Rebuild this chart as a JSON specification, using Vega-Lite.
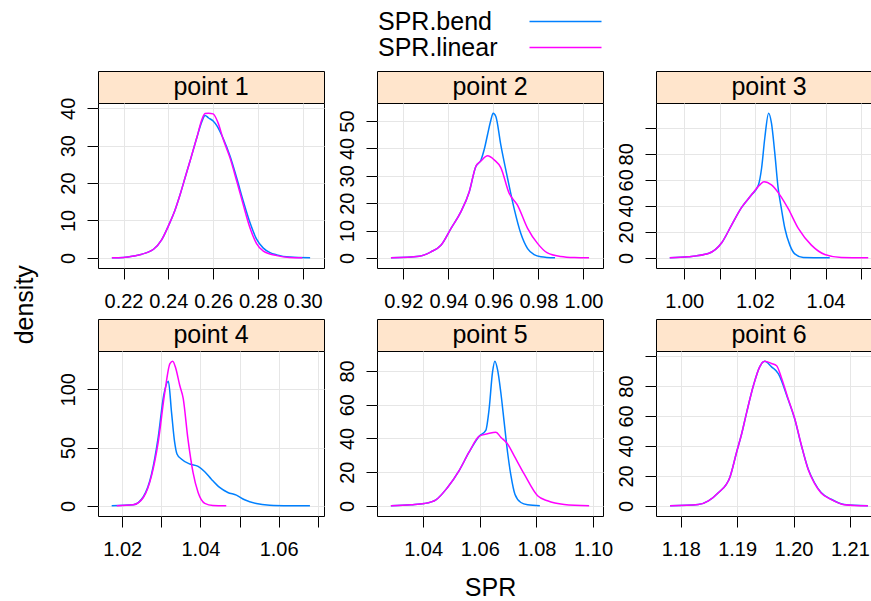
{
  "$schema": "https://vega.github.io/schema/vega-lite/v6.json",
  "background": "white",
  "padding": {"left": 12, "top": 9, "right": -10, "bottom": 0},
  "title": {"text": "density", "orient": "left", "anchor": "middle", "fontSize": 25, "fontWeight": "normal", "font": "Liberation Sans", "color": "black", "offset": 20},
  "datasets": {
    "panels": [{"p": "point 1"}, {"p": "point 2"}, {"p": "point 3"}, {"p": "point 4"}, {"p": "point 5"}, {"p": "point 6"}],
    "dens": [
      {"p":"point 1","s":"SPR.bend","x":0.2148,"y":0},
      {"p":"point 1","s":"SPR.bend","x":0.2200,"y":0.1},
      {"p":"point 1","s":"SPR.bend","x":0.2245,"y":0.5},
      {"p":"point 1","s":"SPR.bend","x":0.2304,"y":1.4},
      {"p":"point 1","s":"SPR.bend","x":0.2334,"y":2.3},
      {"p":"point 1","s":"SPR.bend","x":0.2370,"y":4.8},
      {"p":"point 1","s":"SPR.bend","x":0.2400,"y":8.5},
      {"p":"point 1","s":"SPR.bend","x":0.2430,"y":12.8},
      {"p":"point 1","s":"SPR.bend","x":0.2453,"y":17},
      {"p":"point 1","s":"SPR.bend","x":0.2475,"y":21.5},
      {"p":"point 1","s":"SPR.bend","x":0.2497,"y":25.9},
      {"p":"point 1","s":"SPR.bend","x":0.2527,"y":32.1},
      {"p":"point 1","s":"SPR.bend","x":0.2550,"y":36.5},
      {"p":"point 1","s":"SPR.bend","x":0.2564,"y":38.1},
      {"p":"point 1","s":"SPR.bend","x":0.2580,"y":37.4},
      {"p":"point 1","s":"SPR.bend","x":0.2600,"y":36.6},
      {"p":"point 1","s":"SPR.bend","x":0.2617,"y":35.3},
      {"p":"point 1","s":"SPR.bend","x":0.2645,"y":31.9},
      {"p":"point 1","s":"SPR.bend","x":0.2675,"y":27.3},
      {"p":"point 1","s":"SPR.bend","x":0.2705,"y":21.4},
      {"p":"point 1","s":"SPR.bend","x":0.2734,"y":15.3},
      {"p":"point 1","s":"SPR.bend","x":0.2764,"y":9.5},
      {"p":"point 1","s":"SPR.bend","x":0.2794,"y":5.0},
      {"p":"point 1","s":"SPR.bend","x":0.2824,"y":2.6},
      {"p":"point 1","s":"SPR.bend","x":0.2854,"y":1.4},
      {"p":"point 1","s":"SPR.bend","x":0.2884,"y":0.8},
      {"p":"point 1","s":"SPR.bend","x":0.2943,"y":0.2},
      {"p":"point 1","s":"SPR.bend","x":0.3033,"y":0},
      {"p":"point 2","s":"SPR.bend","x":0.9145,"y":0},
      {"p":"point 2","s":"SPR.bend","x":0.9271,"y":0.6},
      {"p":"point 2","s":"SPR.bend","x":0.9323,"y":2.2},
      {"p":"point 2","s":"SPR.bend","x":0.9367,"y":4.6},
      {"p":"point 2","s":"SPR.bend","x":0.9412,"y":10.8},
      {"p":"point 2","s":"SPR.bend","x":0.9456,"y":16.9},
      {"p":"point 2","s":"SPR.bend","x":0.9493,"y":24.2},
      {"p":"point 2","s":"SPR.bend","x":0.9522,"y":33.4},
      {"p":"point 2","s":"SPR.bend","x":0.9545,"y":35.8},
      {"p":"point 2","s":"SPR.bend","x":0.9559,"y":39.5},
      {"p":"point 2","s":"SPR.bend","x":0.9574,"y":45},
      {"p":"point 2","s":"SPR.bend","x":0.9589,"y":50.4},
      {"p":"point 2","s":"SPR.bend","x":0.9599,"y":52.9},
      {"p":"point 2","s":"SPR.bend","x":0.9611,"y":51.7},
      {"p":"point 2","s":"SPR.bend","x":0.9633,"y":41.3},
      {"p":"point 2","s":"SPR.bend","x":0.9663,"y":29.1},
      {"p":"point 2","s":"SPR.bend","x":0.9692,"y":18.1},
      {"p":"point 2","s":"SPR.bend","x":0.9722,"y":8.9},
      {"p":"point 2","s":"SPR.bend","x":0.9752,"y":3.4},
      {"p":"point 2","s":"SPR.bend","x":0.9781,"y":1.2},
      {"p":"point 2","s":"SPR.bend","x":0.9811,"y":0.4},
      {"p":"point 2","s":"SPR.bend","x":0.9874,"y":0},
      {"p":"point 3","s":"SPR.bend","x":0.9959,"y":0},
      {"p":"point 3","s":"SPR.bend","x":1.0011,"y":0.8},
      {"p":"point 3","s":"SPR.bend","x":1.0068,"y":3.3},
      {"p":"point 3","s":"SPR.bend","x":1.0106,"y":11.6},
      {"p":"point 3","s":"SPR.bend","x":1.0134,"y":25.2},
      {"p":"point 3","s":"SPR.bend","x":1.0162,"y":38.6},
      {"p":"point 3","s":"SPR.bend","x":1.0190,"y":48.3},
      {"p":"point 3","s":"SPR.bend","x":1.0210,"y":56},
      {"p":"point 3","s":"SPR.bend","x":1.0219,"y":68.9},
      {"p":"point 3","s":"SPR.bend","x":1.0228,"y":92},
      {"p":"point 3","s":"SPR.bend","x":1.0239,"y":111.3},
      {"p":"point 3","s":"SPR.bend","x":1.0247,"y":103.6},
      {"p":"point 3","s":"SPR.bend","x":1.0256,"y":81.7},
      {"p":"point 3","s":"SPR.bend","x":1.0266,"y":53.4},
      {"p":"point 3","s":"SPR.bend","x":1.0275,"y":38},
      {"p":"point 3","s":"SPR.bend","x":1.0285,"y":22.6},
      {"p":"point 3","s":"SPR.bend","x":1.0299,"y":9.8},
      {"p":"point 3","s":"SPR.bend","x":1.0313,"y":3.1},
      {"p":"point 3","s":"SPR.bend","x":1.0337,"y":0.3},
      {"p":"point 3","s":"SPR.bend","x":1.0412,"y":0},
      {"p":"point 4","s":"SPR.bend","x":1.0173,"y":0},
      {"p":"point 4","s":"SPR.bend","x":1.0228,"y":0.9},
      {"p":"point 4","s":"SPR.bend","x":1.0254,"y":7.8},
      {"p":"point 4","s":"SPR.bend","x":1.0275,"y":27.3},
      {"p":"point 4","s":"SPR.bend","x":1.0292,"y":58.9},
      {"p":"point 4","s":"SPR.bend","x":1.0306,"y":94.8},
      {"p":"point 4","s":"SPR.bend","x":1.0318,"y":106.9},
      {"p":"point 4","s":"SPR.bend","x":1.0326,"y":80.4},
      {"p":"point 4","s":"SPR.bend","x":1.0334,"y":54.6},
      {"p":"point 4","s":"SPR.bend","x":1.0340,"y":44.5},
      {"p":"point 4","s":"SPR.bend","x":1.0351,"y":40.2},
      {"p":"point 4","s":"SPR.bend","x":1.0373,"y":35.9},
      {"p":"point 4","s":"SPR.bend","x":1.0394,"y":33.9},
      {"p":"point 4","s":"SPR.bend","x":1.0411,"y":29.3},
      {"p":"point 4","s":"SPR.bend","x":1.0428,"y":22.9},
      {"p":"point 4","s":"SPR.bend","x":1.0449,"y":15.8},
      {"p":"point 4","s":"SPR.bend","x":1.0470,"y":11.5},
      {"p":"point 4","s":"SPR.bend","x":1.0492,"y":9.2},
      {"p":"point 4","s":"SPR.bend","x":1.0513,"y":5.2},
      {"p":"point 4","s":"SPR.bend","x":1.0543,"y":2.0},
      {"p":"point 4","s":"SPR.bend","x":1.0577,"y":0.6},
      {"p":"point 4","s":"SPR.bend","x":1.0628,"y":0.1},
      {"p":"point 4","s":"SPR.bend","x":1.0680,"y":0},
      {"p":"point 5","s":"SPR.bend","x":1.0286,"y":0},
      {"p":"point 5","s":"SPR.bend","x":1.0357,"y":0.7},
      {"p":"point 5","s":"SPR.bend","x":1.0404,"y":1.4},
      {"p":"point 5","s":"SPR.bend","x":1.0445,"y":3.6},
      {"p":"point 5","s":"SPR.bend","x":1.0486,"y":10.9},
      {"p":"point 5","s":"SPR.bend","x":1.0527,"y":20.9},
      {"p":"point 5","s":"SPR.bend","x":1.0562,"y":31.8},
      {"p":"point 5","s":"SPR.bend","x":1.0598,"y":41.3},
      {"p":"point 5","s":"SPR.bend","x":1.0621,"y":44.7},
      {"p":"point 5","s":"SPR.bend","x":1.0633,"y":57.6},
      {"p":"point 5","s":"SPR.bend","x":1.0645,"y":79.4},
      {"p":"point 5","s":"SPR.bend","x":1.0653,"y":85.8},
      {"p":"point 5","s":"SPR.bend","x":1.0663,"y":80.5},
      {"p":"point 5","s":"SPR.bend","x":1.0674,"y":67.5},
      {"p":"point 5","s":"SPR.bend","x":1.0686,"y":49.6},
      {"p":"point 5","s":"SPR.bend","x":1.0698,"y":31.8},
      {"p":"point 5","s":"SPR.bend","x":1.0710,"y":17.9},
      {"p":"point 5","s":"SPR.bend","x":1.0724,"y":6.9},
      {"p":"point 5","s":"SPR.bend","x":1.0745,"y":2.0},
      {"p":"point 5","s":"SPR.bend","x":1.0769,"y":0.6},
      {"p":"point 5","s":"SPR.bend","x":1.0812,"y":0},
      {"p":"point 6","s":"SPR.bend","x":1.1781,"y":0},
      {"p":"point 6","s":"SPR.bend","x":1.1831,"y":0.9},
      {"p":"point 6","s":"SPR.bend","x":1.1849,"y":3.4},
      {"p":"point 6","s":"SPR.bend","x":1.1867,"y":8.9},
      {"p":"point 6","s":"SPR.bend","x":1.1887,"y":19},
      {"p":"point 6","s":"SPR.bend","x":1.1899,"y":35.8},
      {"p":"point 6","s":"SPR.bend","x":1.1908,"y":48.1},
      {"p":"point 6","s":"SPR.bend","x":1.1917,"y":62.6},
      {"p":"point 6","s":"SPR.bend","x":1.1929,"y":80.5},
      {"p":"point 6","s":"SPR.bend","x":1.1940,"y":92.8},
      {"p":"point 6","s":"SPR.bend","x":1.1949,"y":96.6},
      {"p":"point 6","s":"SPR.bend","x":1.1961,"y":92.8},
      {"p":"point 6","s":"SPR.bend","x":1.1973,"y":88.3},
      {"p":"point 6","s":"SPR.bend","x":1.1990,"y":71.5},
      {"p":"point 6","s":"SPR.bend","x":1.2002,"y":58.1},
      {"p":"point 6","s":"SPR.bend","x":1.2014,"y":40.3},
      {"p":"point 6","s":"SPR.bend","x":1.2026,"y":24.6},
      {"p":"point 6","s":"SPR.bend","x":1.2037,"y":15.6},
      {"p":"point 6","s":"SPR.bend","x":1.2049,"y":8.9},
      {"p":"point 6","s":"SPR.bend","x":1.2067,"y":4.4},
      {"p":"point 6","s":"SPR.bend","x":1.2090,"y":0.9},
      {"p":"point 6","s":"SPR.bend","x":1.2132,"y":0},
      {"p":"point 1","s":"SPR.linear","x":0.2148,"y":0},
      {"p":"point 1","s":"SPR.linear","x":0.2200,"y":0.1},
      {"p":"point 1","s":"SPR.linear","x":0.2245,"y":0.5},
      {"p":"point 1","s":"SPR.linear","x":0.2304,"y":1.4},
      {"p":"point 1","s":"SPR.linear","x":0.2334,"y":2.3},
      {"p":"point 1","s":"SPR.linear","x":0.2370,"y":4.8},
      {"p":"point 1","s":"SPR.linear","x":0.2400,"y":8.5},
      {"p":"point 1","s":"SPR.linear","x":0.2430,"y":12.8},
      {"p":"point 1","s":"SPR.linear","x":0.2453,"y":17},
      {"p":"point 1","s":"SPR.linear","x":0.2475,"y":21.5},
      {"p":"point 1","s":"SPR.linear","x":0.2497,"y":25.9},
      {"p":"point 1","s":"SPR.linear","x":0.2527,"y":32.1},
      {"p":"point 1","s":"SPR.linear","x":0.2550,"y":37.0},
      {"p":"point 1","s":"SPR.linear","x":0.2564,"y":38.6},
      {"p":"point 1","s":"SPR.linear","x":0.2579,"y":38.7},
      {"p":"point 1","s":"SPR.linear","x":0.2600,"y":38.5},
      {"p":"point 1","s":"SPR.linear","x":0.2622,"y":36.1},
      {"p":"point 1","s":"SPR.linear","x":0.2645,"y":31.7},
      {"p":"point 1","s":"SPR.linear","x":0.2675,"y":26.8},
      {"p":"point 1","s":"SPR.linear","x":0.2705,"y":20.6},
      {"p":"point 1","s":"SPR.linear","x":0.2734,"y":14.3},
      {"p":"point 1","s":"SPR.linear","x":0.2764,"y":8.1},
      {"p":"point 1","s":"SPR.linear","x":0.2794,"y":3.8},
      {"p":"point 1","s":"SPR.linear","x":0.2824,"y":1.8},
      {"p":"point 1","s":"SPR.linear","x":0.2884,"y":0.6},
      {"p":"point 1","s":"SPR.linear","x":0.2940,"y":0.1},
      {"p":"point 1","s":"SPR.linear","x":0.2998,"y":0},
      {"p":"point 2","s":"SPR.linear","x":0.9145,"y":0},
      {"p":"point 2","s":"SPR.linear","x":0.9271,"y":0.6},
      {"p":"point 2","s":"SPR.linear","x":0.9323,"y":2.2},
      {"p":"point 2","s":"SPR.linear","x":0.9367,"y":4.6},
      {"p":"point 2","s":"SPR.linear","x":0.9412,"y":10.8},
      {"p":"point 2","s":"SPR.linear","x":0.9456,"y":16.9},
      {"p":"point 2","s":"SPR.linear","x":0.9493,"y":24.2},
      {"p":"point 2","s":"SPR.linear","x":0.9522,"y":33.4},
      {"p":"point 2","s":"SPR.linear","x":0.9545,"y":35.4},
      {"p":"point 2","s":"SPR.linear","x":0.9574,"y":37.3},
      {"p":"point 2","s":"SPR.linear","x":0.9604,"y":35.8},
      {"p":"point 2","s":"SPR.linear","x":0.9633,"y":33},
      {"p":"point 2","s":"SPR.linear","x":0.9670,"y":23.6},
      {"p":"point 2","s":"SPR.linear","x":0.9707,"y":19.3},
      {"p":"point 2","s":"SPR.linear","x":0.9752,"y":10.8},
      {"p":"point 2","s":"SPR.linear","x":0.9796,"y":5.3},
      {"p":"point 2","s":"SPR.linear","x":0.9840,"y":1.8},
      {"p":"point 2","s":"SPR.linear","x":0.9899,"y":0.5},
      {"p":"point 2","s":"SPR.linear","x":0.9960,"y":0.1},
      {"p":"point 2","s":"SPR.linear","x":1.0025,"y":0},
      {"p":"point 3","s":"SPR.linear","x":0.9959,"y":0},
      {"p":"point 3","s":"SPR.linear","x":1.0011,"y":0.8},
      {"p":"point 3","s":"SPR.linear","x":1.0068,"y":3.3},
      {"p":"point 3","s":"SPR.linear","x":1.0106,"y":11.6},
      {"p":"point 3","s":"SPR.linear","x":1.0134,"y":25.2},
      {"p":"point 3","s":"SPR.linear","x":1.0162,"y":38.6},
      {"p":"point 3","s":"SPR.linear","x":1.0190,"y":48.3},
      {"p":"point 3","s":"SPR.linear","x":1.0214,"y":56.1},
      {"p":"point 3","s":"SPR.linear","x":1.0226,"y":58.6},
      {"p":"point 3","s":"SPR.linear","x":1.0247,"y":56.1},
      {"p":"point 3","s":"SPR.linear","x":1.0271,"y":48.3},
      {"p":"point 3","s":"SPR.linear","x":1.0294,"y":38},
      {"p":"point 3","s":"SPR.linear","x":1.0323,"y":22.6},
      {"p":"point 3","s":"SPR.linear","x":1.0360,"y":9.8},
      {"p":"point 3","s":"SPR.linear","x":1.0398,"y":2.6},
      {"p":"point 3","s":"SPR.linear","x":1.0445,"y":0.3},
      {"p":"point 3","s":"SPR.linear","x":1.0521,"y":0},
      {"p":"point 4","s":"SPR.linear","x":1.0186,"y":0},
      {"p":"point 4","s":"SPR.linear","x":1.0228,"y":0.9},
      {"p":"point 4","s":"SPR.linear","x":1.0254,"y":7.2},
      {"p":"point 4","s":"SPR.linear","x":1.0275,"y":25.9},
      {"p":"point 4","s":"SPR.linear","x":1.0292,"y":54.6},
      {"p":"point 4","s":"SPR.linear","x":1.0309,"y":97.7},
      {"p":"point 4","s":"SPR.linear","x":1.0322,"y":122},
      {"p":"point 4","s":"SPR.linear","x":1.0329,"y":124.1},
      {"p":"point 4","s":"SPR.linear","x":1.0337,"y":117.8},
      {"p":"point 4","s":"SPR.linear","x":1.0347,"y":103.4},
      {"p":"point 4","s":"SPR.linear","x":1.0356,"y":91.9},
      {"p":"point 4","s":"SPR.linear","x":1.0368,"y":57.4},
      {"p":"point 4","s":"SPR.linear","x":1.0381,"y":28.7},
      {"p":"point 4","s":"SPR.linear","x":1.0394,"y":11.5},
      {"p":"point 4","s":"SPR.linear","x":1.0411,"y":2.2},
      {"p":"point 4","s":"SPR.linear","x":1.0432,"y":0.3},
      {"p":"point 4","s":"SPR.linear","x":1.0466,"y":0},
      {"p":"point 5","s":"SPR.linear","x":1.0286,"y":0},
      {"p":"point 5","s":"SPR.linear","x":1.0357,"y":0.7},
      {"p":"point 5","s":"SPR.linear","x":1.0404,"y":1.4},
      {"p":"point 5","s":"SPR.linear","x":1.0445,"y":3.6},
      {"p":"point 5","s":"SPR.linear","x":1.0486,"y":10.9},
      {"p":"point 5","s":"SPR.linear","x":1.0527,"y":20.9},
      {"p":"point 5","s":"SPR.linear","x":1.0562,"y":31.8},
      {"p":"point 5","s":"SPR.linear","x":1.0598,"y":41.3},
      {"p":"point 5","s":"SPR.linear","x":1.0627,"y":42.7},
      {"p":"point 5","s":"SPR.linear","x":1.0657,"y":43.7},
      {"p":"point 5","s":"SPR.linear","x":1.0674,"y":40.7},
      {"p":"point 5","s":"SPR.linear","x":1.0698,"y":36.7},
      {"p":"point 5","s":"SPR.linear","x":1.0721,"y":29.8},
      {"p":"point 5","s":"SPR.linear","x":1.0757,"y":18.8},
      {"p":"point 5","s":"SPR.linear","x":1.0804,"y":6.0},
      {"p":"point 5","s":"SPR.linear","x":1.0839,"y":3.0},
      {"p":"point 5","s":"SPR.linear","x":1.0898,"y":0.8},
      {"p":"point 5","s":"SPR.linear","x":1.0986,"y":0},
      {"p":"point 6","s":"SPR.linear","x":1.1781,"y":0},
      {"p":"point 6","s":"SPR.linear","x":1.1831,"y":0.9},
      {"p":"point 6","s":"SPR.linear","x":1.1849,"y":3.4},
      {"p":"point 6","s":"SPR.linear","x":1.1867,"y":8.9},
      {"p":"point 6","s":"SPR.linear","x":1.1887,"y":19},
      {"p":"point 6","s":"SPR.linear","x":1.1899,"y":35.8},
      {"p":"point 6","s":"SPR.linear","x":1.1908,"y":48.1},
      {"p":"point 6","s":"SPR.linear","x":1.1917,"y":62.6},
      {"p":"point 6","s":"SPR.linear","x":1.1929,"y":80.5},
      {"p":"point 6","s":"SPR.linear","x":1.1940,"y":92.8},
      {"p":"point 6","s":"SPR.linear","x":1.1949,"y":96.6},
      {"p":"point 6","s":"SPR.linear","x":1.1961,"y":95},
      {"p":"point 6","s":"SPR.linear","x":1.1970,"y":93.5},
      {"p":"point 6","s":"SPR.linear","x":1.1979,"y":85},
      {"p":"point 6","s":"SPR.linear","x":1.1990,"y":72},
      {"p":"point 6","s":"SPR.linear","x":1.2002,"y":58.5},
      {"p":"point 6","s":"SPR.linear","x":1.2014,"y":40.5},
      {"p":"point 6","s":"SPR.linear","x":1.2026,"y":24.3},
      {"p":"point 6","s":"SPR.linear","x":1.2037,"y":15.2},
      {"p":"point 6","s":"SPR.linear","x":1.2049,"y":8.6},
      {"p":"point 6","s":"SPR.linear","x":1.2067,"y":4.2},
      {"p":"point 6","s":"SPR.linear","x":1.2090,"y":0.8},
      {"p":"point 6","s":"SPR.linear","x":1.2132,"y":0}
    ]
  },
  "config": {
    "font": "Liberation Sans",
    "axis": {
      "domain": false,
      "grid": true, "gridColor": "#e6e6e6", "gridWidth": 1,
      "ticks": true, "tickColor": "black", "tickSize": 11, "tickWidth": 1,
      "labelFont": "Liberation Sans", "labelFontSize": 20, "labelColor": "black",
      "labelOverlap": "greedy",
      "titleFont": "Liberation Sans", "titleFontSize": 25, "titleFontWeight": "normal", "titleColor": "black"
    },
    "axisX": {"labelPadding": 12, "labelBaseline": "top", "labelAngle": 0, "labelSeparation": 3, "titlePadding": 16},
    "axisY": {"labelAngle": 270, "labelAlign": "center", "labelBaseline": "alphabetic", "labelPadding": 13, "labelSeparation": 2.5}
  },
  "columns": 3,
  "align": {"row": "each", "column": "all"},
  "spacing": {"row": 6, "column": 1},
  "concat": [
    {"vconcat": [
      {"width": 226, "height": 32, "view": {"fill": "#ffe5cc", "stroke": "black", "strokeWidth": 1}, "data": {"name": "panels"}, "transform": [{"filter": "datum.p === 'point 1'"}], "mark": {"type": "text", "fontSize": 25, "font": "Liberation Sans", "color": "black", "baseline": "middle", "align": "center"}, "encoding": {"text": {"field": "p", "type": "nominal"}}},
      {"width": 226, "height": 165, "view": {"fill": "white", "stroke": "black", "strokeWidth": 1}, "data": {"name": "dens"}, "transform": [{"filter": "datum.p === 'point 1'"}], "mark": {"type": "line", "strokeWidth": 1.5, "clip": true, "interpolate": "monotone"},
       "encoding": {
         "x": {"field": "x", "type": "quantitative", "scale": {"domain": [0.2086, 0.3095], "nice": false, "zero": false}, "axis": {"values": [0.22, 0.24, 0.26, 0.28, 0.30], "format": ".2f", "title": null}},
         "y": {"field": "y", "type": "quantitative", "scale": {"domain": [-2.709, 41.409], "nice": false, "zero": false}, "axis": {"values": [0, 10, 20, 30, 40], "format": "d", "title": null}},
         "color": {"field": "s", "type": "nominal", "scale": {"domain": ["SPR.bend", "SPR.linear"], "range": ["#0080ff", "#ff00ff"]}, "legend": {"orient": "none", "legendX": 455, "legendY": -62, "direction": "vertical", "title": null, "labelFont": "Liberation Sans", "labelFontSize": 25, "labelColor": "black", "labelOffset": -200, "symbolType": "M-5,0H5", "symbolSize": 207.36, "symbolStrokeWidth": 1.5, "symbolOffset": 0, "rowPadding": 0, "padding": 0}}
       }}
    ], "spacing": 0, "bounds": "flush"},
    {"vconcat": [
      {"width": 226, "height": 32, "view": {"fill": "#ffe5cc", "stroke": "black", "strokeWidth": 1}, "data": {"name": "panels"}, "transform": [{"filter": "datum.p === 'point 2'"}], "mark": {"type": "text", "fontSize": 25, "font": "Liberation Sans", "color": "black", "baseline": "middle", "align": "center"}, "encoding": {"text": {"field": "p", "type": "nominal"}}},
      {"width": 226, "height": 165, "view": {"fill": "white", "stroke": "black", "strokeWidth": 1}, "data": {"name": "dens"}, "transform": [{"filter": "datum.p === 'point 2'"}], "mark": {"type": "line", "strokeWidth": 1.5, "clip": true, "interpolate": "monotone"},
       "encoding": {
         "x": {"field": "x", "type": "quantitative", "scale": {"domain": [0.9083, 1.0087], "nice": false, "zero": false}, "axis": {"values": [0.92, 0.94, 0.96, 0.98, 1.00], "format": ".2f", "title": null}},
         "y": {"field": "y", "type": "quantitative", "scale": {"domain": [-3.703, 56.603], "nice": false, "zero": false}, "axis": {"values": [0, 10, 20, 30, 40, 50], "format": "d", "title": null}},
         "color": {"field": "s", "type": "nominal", "scale": {"domain": ["SPR.bend", "SPR.linear"], "range": ["#0080ff", "#ff00ff"]}, "legend": {"orient": "none", "legendX": 455, "legendY": -62, "direction": "vertical", "title": null, "labelFont": "Liberation Sans", "labelFontSize": 25, "labelColor": "black", "labelOffset": -200, "symbolType": "M-5,0H5", "symbolSize": 207.36, "symbolStrokeWidth": 1.5, "symbolOffset": 0, "rowPadding": 0, "padding": 0}}
       }}
    ], "spacing": 0, "bounds": "flush"},
    {"vconcat": [
      {"width": 226, "height": 32, "view": {"fill": "#ffe5cc", "stroke": "black", "strokeWidth": 1}, "data": {"name": "panels"}, "transform": [{"filter": "datum.p === 'point 3'"}], "mark": {"type": "text", "fontSize": 25, "font": "Liberation Sans", "color": "black", "baseline": "middle", "align": "center"}, "encoding": {"text": {"field": "p", "type": "nominal"}}},
      {"width": 226, "height": 165, "view": {"fill": "white", "stroke": "black", "strokeWidth": 1}, "data": {"name": "dens"}, "transform": [{"filter": "datum.p === 'point 3'"}], "mark": {"type": "line", "strokeWidth": 1.5, "clip": true, "interpolate": "monotone"},
       "encoding": {
         "x": {"field": "x", "type": "quantitative", "scale": {"domain": [0.9920, 1.0560], "nice": false, "zero": false}, "axis": {"values": [1.00, 1.01, 1.02, 1.03, 1.04, 1.05], "format": ".2f", "title": null}},
         "y": {"field": "y", "type": "quantitative", "scale": {"domain": [-7.791, 119.091], "nice": false, "zero": false}, "axis": {"values": [0, 20, 40, 60, 80, 100], "format": "d", "title": null}},
         "color": {"field": "s", "type": "nominal", "scale": {"domain": ["SPR.bend", "SPR.linear"], "range": ["#0080ff", "#ff00ff"]}, "legend": {"orient": "none", "legendX": 455, "legendY": -62, "direction": "vertical", "title": null, "labelFont": "Liberation Sans", "labelFontSize": 25, "labelColor": "black", "labelOffset": -200, "symbolType": "M-5,0H5", "symbolSize": 207.36, "symbolStrokeWidth": 1.5, "symbolOffset": 0, "rowPadding": 0, "padding": 0}}
       }}
    ], "spacing": 0, "bounds": "flush"},
    {"vconcat": [
      {"width": 226, "height": 32, "view": {"fill": "#ffe5cc", "stroke": "black", "strokeWidth": 1}, "data": {"name": "panels"}, "transform": [{"filter": "datum.p === 'point 4'"}], "mark": {"type": "text", "fontSize": 25, "font": "Liberation Sans", "color": "black", "baseline": "middle", "align": "center"}, "encoding": {"text": {"field": "p", "type": "nominal"}}},
      {"width": 226, "height": 165, "view": {"fill": "white", "stroke": "black", "strokeWidth": 1}, "data": {"name": "dens"}, "transform": [{"filter": "datum.p === 'point 4'"}], "mark": {"type": "line", "strokeWidth": 1.5, "clip": true, "interpolate": "monotone"},
       "encoding": {
         "x": {"field": "x", "type": "quantitative", "scale": {"domain": [1.0138, 1.0716], "nice": false, "zero": false}, "axis": {"values": [1.02, 1.03, 1.04, 1.05, 1.06, 1.07], "format": ".2f", "title": null}},
         "y": {"field": "y", "type": "quantitative", "scale": {"domain": [-8.687, 132.787], "nice": false, "zero": false}, "axis": {"values": [0, 50, 100], "format": "d", "title": null}},
         "color": {"field": "s", "type": "nominal", "scale": {"domain": ["SPR.bend", "SPR.linear"], "range": ["#0080ff", "#ff00ff"]}, "legend": {"orient": "none", "legendX": 455, "legendY": -62, "direction": "vertical", "title": null, "labelFont": "Liberation Sans", "labelFontSize": 25, "labelColor": "black", "labelOffset": -200, "symbolType": "M-5,0H5", "symbolSize": 207.36, "symbolStrokeWidth": 1.5, "symbolOffset": 0, "rowPadding": 0, "padding": 0}}
       }}
    ], "spacing": 0, "bounds": "flush"},
    {"vconcat": [
      {"width": 226, "height": 32, "view": {"fill": "#ffe5cc", "stroke": "black", "strokeWidth": 1}, "data": {"name": "panels"}, "transform": [{"filter": "datum.p === 'point 5'"}], "mark": {"type": "text", "fontSize": 25, "font": "Liberation Sans", "color": "black", "baseline": "middle", "align": "center"}, "encoding": {"text": {"field": "p", "type": "nominal"}}},
      {"width": 226, "height": 165, "view": {"fill": "white", "stroke": "black", "strokeWidth": 1}, "data": {"name": "dens"}, "transform": [{"filter": "datum.p === 'point 5'"}], "mark": {"type": "line", "strokeWidth": 1.5, "clip": true, "interpolate": "monotone"},
       "encoding": {
         "x": {"field": "x", "type": "quantitative", "scale": {"domain": [1.0237, 1.1035], "nice": false, "zero": false}, "axis": {"values": [1.04, 1.06, 1.08, 1.10], "format": ".2f", "title": "SPR"}},
         "y": {"field": "y", "type": "quantitative", "scale": {"domain": [-6.006, 91.806], "nice": false, "zero": false}, "axis": {"values": [0, 20, 40, 60, 80], "format": "d", "title": null}},
         "color": {"field": "s", "type": "nominal", "scale": {"domain": ["SPR.bend", "SPR.linear"], "range": ["#0080ff", "#ff00ff"]}, "legend": {"orient": "none", "legendX": 455, "legendY": -62, "direction": "vertical", "title": null, "labelFont": "Liberation Sans", "labelFontSize": 25, "labelColor": "black", "labelOffset": -200, "symbolType": "M-5,0H5", "symbolSize": 207.36, "symbolStrokeWidth": 1.5, "symbolOffset": 0, "rowPadding": 0, "padding": 0}}
       }}
    ], "spacing": 0, "bounds": "flush"},
    {"vconcat": [
      {"width": 226, "height": 32, "view": {"fill": "#ffe5cc", "stroke": "black", "strokeWidth": 1}, "data": {"name": "panels"}, "transform": [{"filter": "datum.p === 'point 6'"}], "mark": {"type": "text", "fontSize": 25, "font": "Liberation Sans", "color": "black", "baseline": "middle", "align": "center"}, "encoding": {"text": {"field": "p", "type": "nominal"}}},
      {"width": 226, "height": 165, "view": {"fill": "white", "stroke": "black", "strokeWidth": 1}, "data": {"name": "dens"}, "transform": [{"filter": "datum.p === 'point 6'"}], "mark": {"type": "line", "strokeWidth": 1.5, "clip": true, "interpolate": "monotone"},
       "encoding": {
         "x": {"field": "x", "type": "quantitative", "scale": {"domain": [1.1756, 1.2157], "nice": false, "zero": false}, "axis": {"values": [1.18, 1.19, 1.20, 1.21], "format": ".2f", "title": null}},
         "y": {"field": "y", "type": "quantitative", "scale": {"domain": [-6.762, 103.362], "nice": false, "zero": false}, "axis": {"values": [0, 20, 40, 60, 80, 100], "format": "d", "title": null}},
         "color": {"field": "s", "type": "nominal", "scale": {"domain": ["SPR.bend", "SPR.linear"], "range": ["#0080ff", "#ff00ff"]}, "legend": {"orient": "none", "legendX": 455, "legendY": -62, "direction": "vertical", "title": null, "labelFont": "Liberation Sans", "labelFontSize": 25, "labelColor": "black", "labelOffset": -200, "symbolType": "M-5,0H5", "symbolSize": 207.36, "symbolStrokeWidth": 1.5, "symbolOffset": 0, "rowPadding": 0, "padding": 0}}
       }}
    ], "spacing": 0, "bounds": "flush"}
  ]
}
